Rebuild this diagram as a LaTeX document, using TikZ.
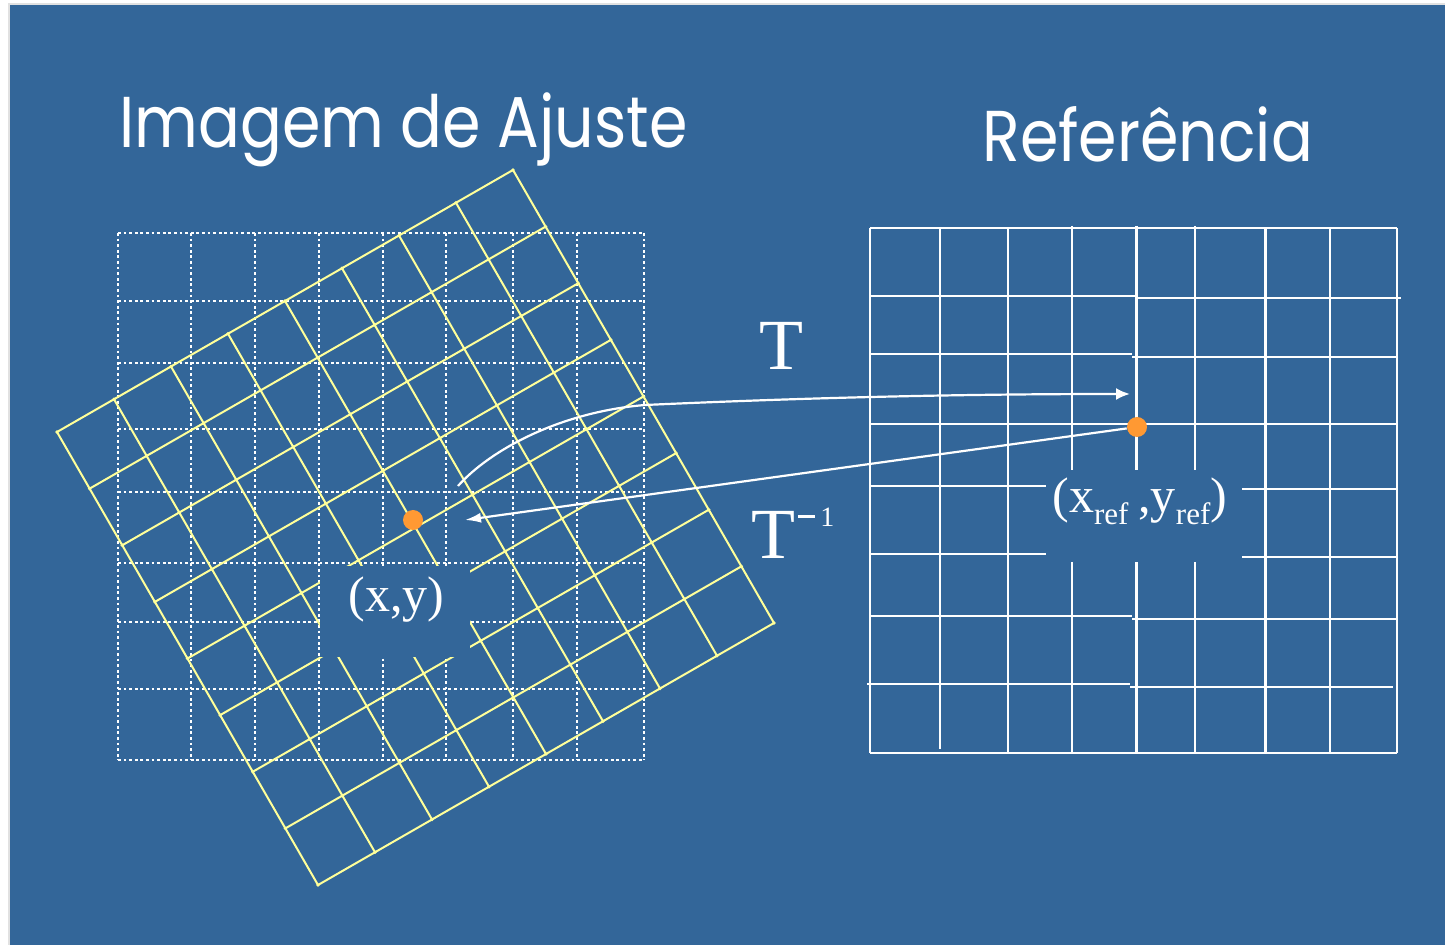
\documentclass[tikz,border=0pt]{standalone}
\usepackage{fontspec}
\setmainfont{Liberation Serif}
\newfontfamily\titlefont{Poppins}
\usetikzlibrary{arrows.meta}
\definecolor{bgblue}{RGB}{51,102,153}
\definecolor{gridyellow}{RGB}{255,255,153}
\definecolor{dotorange}{RGB}{255,153,51}
\definecolor{edgegray}{RGB}{225,225,225}
\tikzset{
  dgrid/.style={white, line width=1.2pt, dash pattern=on 1.4pt off 1.4pt},
  ygrid/.style={gridyellow, line width=1pt},
  rgrid/.style={white, line width=1.1pt},
  arrowline/.style={white, line width=1.1pt},
  pointdot/.style={circle, fill=dotorange, inner sep=0pt, minimum size=10pt},
  titletext/.style={white, inner sep=0pt, xscale=0.86, font=\titlefont\fontsize{36}{40}\selectfont},
  serifbig/.style={white, inner sep=0pt, font=\fontsize{36}{40}\selectfont},
  coordtext/.style={white, inner sep=0pt, font=\fontsize{25}{28}\selectfont}
}
\begin{document}
\begin{tikzpicture}[x=0.5pt,y=-0.5pt]
\useasboundingbox (0,0) rectangle (1445,945);
\fill[white] (0,0) rectangle (1445,945);
\fill[edgegray] (8,3) rectangle (1445,945);
\fill[bgblue] (10,5) rectangle (1445,945);

% titles
\node[titletext, anchor=base west] (title1) at (119,148) {Imagem de Ajuste};
\node[titletext, anchor=base west] (title2) at (982,162) {Referência};

% dotted reference grid on the left
\foreach \x in {118,191,255,319,383,446,513,577,644}
  \draw[dgrid] (\x,233) -- (\x,760);
\foreach \y in {233,301,363,429,492,563,622,689,760}
  \draw[dgrid] (118,\y) -- (644,\y);

% rotated yellow grid
\foreach \i in {0,...,8}
  \draw[ygrid] ({57+57*\i},{432-32.75*\i}) -- ++(261,453);
\foreach \j in {0,...,8}
  \draw[ygrid] ({57+32.625*\j},{432+56.625*\j}) -- ++(456,-262);
\foreach \i in {0,...,8}
  \foreach \j in {0,...,8}
    \fill[gridyellow] ({57+57*\i+32.625*\j},{432-32.75*\i+56.625*\j}) circle[radius=0.9pt];

% gap behind (x,y)
\fill[bgblue] (320,566) rectangle (470,657);

% right grid
\foreach \x in {870,1008,1265.5,1330,1397}
  \draw[rgrid] (\x,228) -- (\x,753);
\draw[rgrid] (940,228) -- (940,749);
\foreach \x in {1072,1136.5,1195} {
  \draw[rgrid] (\x,226) -- (\x,470);
  \draw[rgrid] (\x,562) -- (\x,753);
}
\draw[rgrid] (870,228) -- (1397,228);
\draw[rgrid] (870,296) -- (1136,296);
\draw[rgrid] (1136,298) -- (1401,298);
\draw[rgrid] (870,354) -- (1132,354);
\draw[rgrid] (1132,357) -- (1397,357);
\draw[rgrid] (870,424) -- (1397,424);
\draw[rgrid] (870,486) -- (1046,486);
\draw[rgrid] (1242,489) -- (1397,489);
\draw[rgrid] (870,554) -- (1046,554);
\draw[rgrid] (1242,557) -- (1397,557);
\draw[rgrid] (870,616) -- (1132,616);
\draw[rgrid] (1132,619) -- (1397,619);
\draw[rgrid] (867,684) -- (1130,684);
\draw[rgrid] (1130,687) -- (1393,687);
\draw[rgrid] (870,753) -- (1397,753);

% points
\node[pointdot] (p) at (413,520) {};
\node[pointdot] (pref) at (1137,427) {};
\coordinate (tstart) at (458,486);
\coordinate (tend) at (1130,394);
\coordinate (tinvend) at (465,520);

% arrows
\draw[arrowline, -{Latex[length=7pt,width=6pt]}] (tstart) .. controls (490,450) and (560,412) .. (645,405) .. controls (800,398) and (950,394) .. (tend);
\draw[arrowline, -{Latex[length=8pt,width=5pt]}] (pref) -- (tinvend);

% labels
\node[serifbig, anchor=base] (tlabel) at (781,370) {T};
\node[serifbig, anchor=base west] (tinvlabel) at (751,559) {T\hspace{1.5pt}\rule[20.5pt]{8.5pt}{1.6pt}\hspace{2.5pt}\raisebox{16pt}{\fontsize{14}{14}\selectfont 1}};
\node[coordtext, anchor=base] (lxy) at (396.5,612) {(x,y)};
\node[coordtext, anchor=base west] (lref) at (1052,513) {(x\raisebox{-6pt}{\fontsize{15.5}{16}\selectfont ref}\hspace{5pt},y\raisebox{-6pt}{\fontsize{15.5}{16}\selectfont ref})};
\end{tikzpicture}
\end{document}
